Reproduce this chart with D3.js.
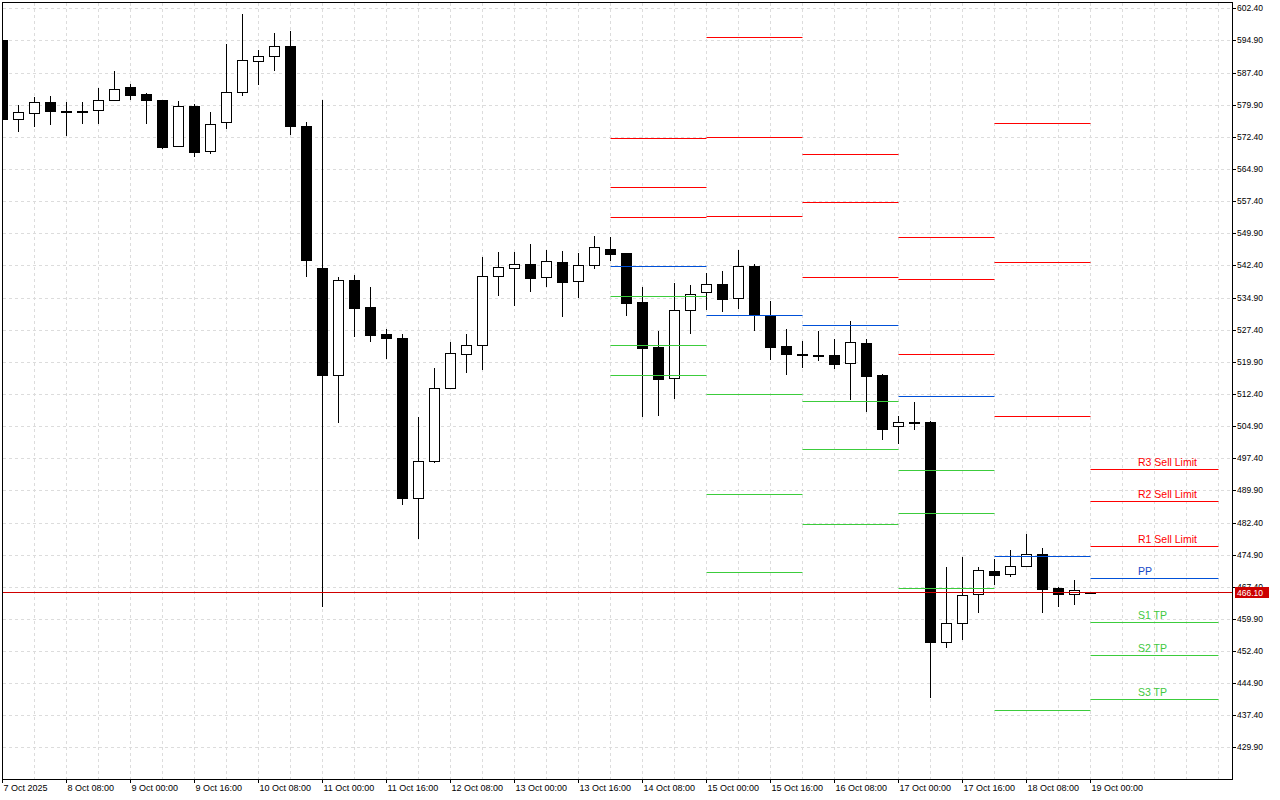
<!DOCTYPE html>
<html>
<head>
<meta charset="utf-8">
<script src="https://cdn.jsdelivr.net/npm/d3@7"></script>
<style>
    body { margin: 0; background: #fff; }
    svg { display: block; font-family: "Liberation Sans", Arial, sans-serif; }
</style>
</head>
<body>
<div id="chart"></div>
<script>
// H4 bars, first one opens 7 Oct 2025 16:00
const firstBar = "2025-10-07T16:00Z";

const opens = [595.00, 576.57, 577.97, 580.53, 578.50, 578.40, 578.67, 581.00, 584.03, 582.40,
    581.00, 570.26, 579.60, 569.10, 575.87, 582.87, 590.10, 591.27, 593.60, 574.93,
    541.79, 516.82, 538.99, 532.69, 526.39, 525.46, 488.12, 496.75, 513.79, 521.72,
    523.82, 539.93, 541.79, 542.73, 539.69, 543.19, 538.76, 542.49, 546.23, 545.29,
    533.86, 523.36, 516.12, 531.99, 536.19, 538.06, 534.79, 542.26, 530.59, 523.59,
    521.72, 521.49, 521.49, 519.62, 524.29, 516.82, 504.92, 505.85, 505.85, 454.51,
    458.95, 465.71, 471.08, 470.38, 472.25, 475.05, 467.11, 465.71, 466.10];
const highs = [595.47, 579.83, 581.70, 581.93, 580.53, 580.53, 583.80, 587.77, 584.73, 582.63,
    581.00, 580.77, 580.07, 578.20, 594.07, 601.07, 592.67, 596.64, 597.10, 575.87,
    581.00, 539.69, 540.16, 537.36, 527.56, 526.39, 507.02, 518.46, 524.52, 526.39,
    544.36, 545.53, 545.53, 547.39, 545.99, 545.76, 545.29, 549.26, 549.03, 545.29,
    537.36, 527.09, 538.29, 537.83, 540.63, 541.09, 545.99, 542.73, 534.09, 527.56,
    524.76, 527.09, 525.22, 529.42, 525.22, 517.06, 507.25, 510.52, 506.08, 472.02,
    474.35, 472.02, 473.88, 475.98, 479.72, 476.45, 467.35, 468.98, 466.10];
const lows = [576.10, 573.77, 574.93, 575.40, 572.83, 575.63, 575.63, 581.00, 581.23, 575.63,
    569.80, 570.26, 567.93, 568.63, 574.47, 582.17, 584.73, 588.00, 573.07, 539.93,
    462.91, 505.85, 525.92, 524.76, 520.79, 486.72, 478.78, 496.52, 513.79, 517.52,
    518.22, 535.49, 533.16, 536.43, 537.59, 530.59, 535.03, 541.79, 543.66, 530.83,
    507.25, 507.49, 511.45, 526.62, 532.23, 531.76, 532.46, 527.32, 520.56, 517.06,
    518.69, 520.32, 518.46, 511.22, 508.42, 501.89, 500.95, 504.22, 441.68, 453.35,
    455.22, 461.51, 468.05, 469.92, 472.25, 461.51, 462.91, 463.38, 466.10];
const closes = [576.57, 578.20, 580.53, 578.43, 578.40, 578.50, 581.00, 583.57, 582.17, 581.00,
    570.03, 579.60, 568.86, 575.40, 582.87, 590.33, 591.27, 593.60, 574.93, 543.66,
    516.82, 538.99, 532.46, 526.16, 525.46, 488.12, 496.75, 513.79, 521.96, 523.82,
    539.93, 542.03, 542.73, 539.46, 543.43, 538.53, 542.49, 546.69, 545.06, 533.62,
    523.12, 515.89, 531.99, 535.73, 538.06, 534.56, 542.26, 530.83, 523.36, 521.72,
    521.49, 521.26, 519.39, 524.52, 516.59, 504.22, 505.85, 505.62, 454.51, 458.95,
    465.48, 471.32, 470.15, 472.25, 475.05, 466.88, 465.71, 466.65, 466.10];

const lastPrice = 466.10;

// daily pivot levels
const pivotStart = ["2025-10-14T00:00Z", "2025-10-15T00:00Z", "2025-10-16T00:00Z",
    "2025-10-17T00:00Z", "2025-10-18T00:00Z", "2025-10-19T00:00Z"];
const pivotEnd = ["2025-10-15T00:00Z", "2025-10-16T00:00Z", "2025-10-17T00:00Z",
    "2025-10-18T00:00Z", "2025-10-19T00:00Z", "2025-10-20T08:00Z"];
const r3 = [572.10, 595.63, 568.33, 548.96, 575.56, 494.82];
const r2 = [560.70, 572.30, 557.13, 539.16, 543.12, 487.35];
const r1 = [553.70, 553.86, 539.62, 521.65, 507.18, 476.85];
const pp = [542.26, 530.83, 528.49, 511.92, 474.58, 469.45];
const s1 = [535.26, 512.39, 510.75, 494.58, 438.64, 459.11];
const s2 = [523.82, 489.05, 499.55, 484.55, 406.04, 451.41];
const s3 = [516.82, 470.85, 482.05, 467.20, 369.80, 441.14];
const pivotLabels = ["R3 Sell Limit", "R2 Sell Limit", "R1 Sell Limit", "PP", "S1 TP", "S2 TP", "S3 TP"];

const priceTicks = [602.4, 594.9, 587.4, 579.9, 572.4, 564.9, 557.4, 549.9, 542.4, 534.9,
    527.4, 519.9, 512.4, 504.9, 497.4, 489.9, 482.4, 474.9, 467.4, 459.9, 452.4, 444.9,
    437.4, 429.9];
const timeTicks = ["2025-10-07T16:00Z", "2025-10-08T08:00Z", "2025-10-09T00:00Z", "2025-10-09T16:00Z",
    "2025-10-10T08:00Z", "2025-10-11T00:00Z", "2025-10-11T16:00Z", "2025-10-12T08:00Z",
    "2025-10-13T00:00Z", "2025-10-13T16:00Z", "2025-10-14T08:00Z", "2025-10-15T00:00Z",
    "2025-10-15T16:00Z", "2025-10-16T08:00Z", "2025-10-17T00:00Z", "2025-10-17T16:00Z",
    "2025-10-18T08:00Z", "2025-10-19T00:00Z"];
const timeLabels = ["7 Oct 2025", "8 Oct 08:00", "9 Oct 00:00", "9 Oct 16:00", "10 Oct 08:00",
    "11 Oct 00:00", "11 Oct 16:00", "12 Oct 08:00", "13 Oct 00:00", "13 Oct 16:00",
    "14 Oct 08:00", "15 Oct 00:00", "15 Oct 16:00", "16 Oct 08:00", "17 Oct 00:00",
    "17 Oct 16:00", "18 Oct 08:00", "19 Oct 00:00"];

const RED = "#ff0000", BLUE = "#0050d8", GREEN = "#3ccc3c";

let bars = opens.map((o, i) => ({
    t: d3.utcHour.offset(new Date(firstBar), 4 * i),
    o: o, h: highs[i], l: lows[i], c: closes[i]
}));

let levels = [
    {name: "R3", vals: r3, color: RED},
    {name: "R2", vals: r2, color: RED},
    {name: "R1", vals: r1, color: RED},
    {name: "PP", vals: pp, color: BLUE},
    {name: "S1", vals: s1, color: GREEN},
    {name: "S2", vals: s2, color: GREEN},
    {name: "S3", vals: s3, color: GREEN}
];

let segments = [];
levels.forEach((lv, li) => {
    pivotStart.forEach((s, d) => {
        segments.push({start: new Date(s), end: new Date(pivotEnd[d]), v: lv.vals[d], color: lv.color,
            label: d === pivotStart.length - 1 ? pivotLabels[li] : null});
    });
});

const svg = d3.select("#chart").append("svg")
    .attr("width", 1280)
    .attr("height", 800);

const plotLeft = 3, plotTop = 3, plotRight = 1232, plotBottom = 779;

let x = d3.scaleUtc()
    .domain([new Date(firstBar), new Date("2025-10-19T00:00Z")])
    .range([2, 1090]);
let y = d3.scaleLinear()
    .domain([422.54, 603.64])
    .range([779, 3])
    .interpolate(d3.interpolateRound);

const cx = d => x(d) + 0.5;
const cy = v => y(v) + 0.5;

svg.append("defs").append("clipPath").attr("id", "plot")
    .append("rect")
    .attr("x", plotLeft).attr("y", plotTop)
    .attr("width", plotRight - plotLeft).attr("height", plotBottom - plotTop);

// grid
let grid = svg.append("g").attr("stroke", "#dcdcdc").attr("stroke-dasharray", "3,3");
grid.selectAll(".hgrid")
    .data(priceTicks)
    .enter().append("line")
    .attr("x1", plotLeft).attr("x2", plotRight)
    .attr("y1", cy).attr("y2", cy);
grid.selectAll(".vgrid")
    .data(d3.utcHour.every(8).range(new Date("2025-10-08T00:00Z"), x.invert(plotRight)))
    .enter().append("line")
    .attr("x1", cx).attr("x2", cx)
    .attr("y1", plotTop).attr("y2", plotBottom);

let plot = svg.append("g").attr("clip-path", "url(#plot)");

// candles
let candle = plot.selectAll(".candle")
    .data(bars)
    .enter().append("g");

candle.append("line")
    .attr("x1", d => cx(d.t)).attr("x2", d => cx(d.t))
    .attr("y1", d => y(d.h)).attr("y2", d => y(d.l) + 1)
    .attr("stroke", "#000");

candle.append("rect")
    .attr("x", d => cx(d.t) - 5)
    .attr("y", d => cy(Math.max(d.o, d.c)))
    .attr("width", 10)
    .attr("height", d => Math.max(1, y(Math.min(d.o, d.c)) - y(Math.max(d.o, d.c))))
    .attr("fill", d => d.c > d.o ? "#fff" : "#000")
    .attr("stroke", "#000");

// pivot levels
plot.selectAll(".level")
    .data(segments)
    .enter().append("line")
    .attr("x1", d => cx(d.start)).attr("x2", d => cx(d.end))
    .attr("y1", d => cy(d.v)).attr("y2", d => cy(d.v))
    .attr("stroke", d => d.color);

plot.selectAll(".level-label")
    .data(segments.filter(d => d.label))
    .enter().append("text")
    .attr("x", 1138)
    .attr("y", d => cy(d.v) - 3.5)
    .attr("fill", d => d.color === GREEN ? "#40c840" : d.color === BLUE ? "#1448c8" : RED)
    .attr("font-size", "10.5px")
    .text(d => d.label);

// last price line
plot.append("line")
    .attr("x1", plotLeft).attr("x2", plotRight)
    .attr("y1", cy(lastPrice)).attr("y2", cy(lastPrice))
    .attr("stroke", "#d00000");

// frame
svg.append("rect")
    .attr("x", 2.5).attr("y", 2.5)
    .attr("width", plotRight - 2).attr("height", plotBottom - 2)
    .attr("fill", "none")
    .attr("stroke", "#000");

// axes
let yAxis = svg.append("g")
    .attr("transform", `translate(${plotRight},0)`)
    .call(d3.axisRight(y).tickValues(priceTicks).tickSize(4).tickPadding(1).tickFormat(d3.format(".2f")));
yAxis.select(".domain").remove();
yAxis.selectAll("text").attr("font-size", "8.5px").attr("font-family", null).attr("fill", "#000");

let xAxis = svg.append("g")
    .attr("transform", `translate(0,${plotBottom})`)
    .call(d3.axisBottom(x)
        .tickValues(timeTicks.map(t => new Date(t)))
        .tickSize(4)
        .tickFormat((d, i) => timeLabels[i]));
xAxis.select(".domain").remove();
xAxis.selectAll("text")
    .attr("text-anchor", "start")
    .attr("x", 1)
    .attr("y", 6)
    .attr("font-size", "9px")
    .attr("font-family", null)
    .attr("fill", "#000");

// last price tag
svg.append("rect")
    .attr("x", 1235).attr("y", y(lastPrice) - 5)
    .attr("width", 34).attr("height", 11)
    .attr("fill", "#cc0000");
svg.append("text")
    .attr("x", 1237).attr("y", y(lastPrice) + 3.5)
    .attr("fill", "#fff")
    .attr("font-size", "8.5px")
    .text(lastPrice.toFixed(2));
</script>
</body>
</html>
